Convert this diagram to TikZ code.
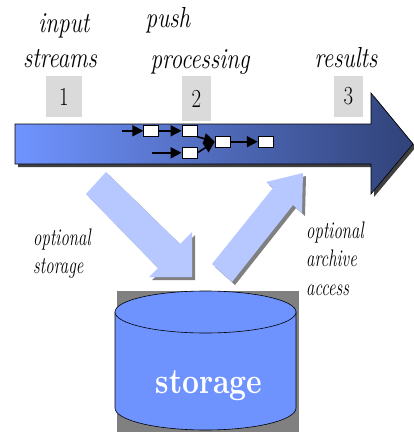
\documentclass[tikz,border=0pt]{standalone}
\usepackage{fontspec}
\setmainfont{Latin Modern Roman}
\newfontfamily\condfont[FakeStretch=0.8]{Latin Modern Roman}
\newfontfamily\condsmall[FakeStretch=0.7]{Latin Modern Roman}
\newfontfamily\condbold[FakeStretch=0.82]{lmroman10-bold.otf}
\usetikzlibrary{arrows.meta}
\definecolor{bigleft}{RGB}{112,148,255}
\definecolor{bigright}{RGB}{48,66,120}
\definecolor{lightarr}{RGB}{182,200,255}
\definecolor{cylfill}{RGB}{110,147,255}
\definecolor{numbox}{RGB}{218,218,218}
\definecolor{shadowgray}{RGB}{128,128,128}
\tikzset{
  lbl/.style={font=\condfont\fontsize{29}{32}\selectfont\itshape, inner sep=0pt, anchor=base},
  smalllbl/.style={font=\condsmall\fontsize{24}{26}\selectfont\itshape, inner sep=0pt, anchor=base west},
  numbox/.style={fill=numbox, inner sep=0pt, font=\condfont\fontsize{26}{28}\selectfont},
  flowbox/.style={draw=black, fill=white, line width=0.8pt, minimum width=15pt, minimum height=11pt, inner sep=0pt},
  flowarr/.style={line width=1.6pt, -{Triangle[length=11pt,width=11pt]}},
}
\begin{document}
\begin{tikzpicture}[x=1pt,y=-1pt]
\useasboundingbox (0,0) rectangle (414,433);

% top labels
\node[lbl] (tin) at (64,33) {input};
\node[lbl] (tstr) at (60,68) {streams};
\node[lbl] (tpush) at (168,28) {push};
\node[lbl] (tproc) at (200,69) {processing};
\node[lbl] (tres) at (346,68) {results};

% number boxes
\node[numbox, minimum width=36pt, minimum height=41pt] (n1) at (64,96.5) {1};
\node[numbox, minimum width=29pt, minimum height=45pt] (n2) at (196.5,98.5) {2};
\node[numbox, minimum width=29pt, minimum height=41pt] (n3) at (348.5,96.5) {3};

% big arrow shadow
\fill[black!75] ([shift={(3,3)}]15,124) -- ++(356,0) -- ++(0,-31) -- ++(42,51) -- ++(-42,50) -- ++(0,-30) -- ++(-356,0) -- cycle;
% big arrow
\shade[left color=bigleft, right color=bigright, draw=black, line width=0.6pt]
  (15,124) -- (371,124) -- (371,93) -- (413,144) -- (371,194) -- (371,164) -- (15,164) -- cycle;

% flow inside arrow
\node[flowbox] (fa) at (151.3,130.8) {};
\node[flowbox] (fb) at (189.5,130.8) {};
\node[flowbox] (fc) at (189.5,152.8) {};
\node[flowbox] (fd) at (222.7,141.7) {};
\node[flowbox] (fe) at (265.7,141.7) {};
\coordinate (sa) at (122,130.8);
\coordinate (sc) at (152,152.8);
\draw[flowarr] (sa) -- (fa.west);
\draw[flowarr] (fa.east) -- (fb.west);
\draw[flowarr] (sc) -- (fc.west);
\draw[flowarr] (fb.south east) -- (fd.west);
\draw[flowarr] (fc.east) -- (fd.west);
\draw[flowarr] (fd.east) -- (fe.west);

% light down arrow (optional storage)
\fill[shadowgray] ([shift={(3,3)}]106,172) -- ++(74,72) -- ++(12,-12) -- ++(0,45) -- ++(-43,0) -- ++(9,-9) -- ++(-72,-74) -- cycle;
\fill[lightarr] (106,172) -- (180,244) -- (192,232) -- (192,277) -- (149,277) -- (158,268) -- (86,194) -- cycle;

% light up arrow (optional archive access)
\fill[shadowgray] ([shift={(3,3)}]212,264) -- ++(61,-76) -- ++(-7,-6) -- ++(37,-9) -- ++(-1,40) -- ++(-9,-8) -- ++(-61,77) -- cycle;
\fill[lightarr] (212,264) -- (273,188) -- (266,182) -- (303,173) -- (302,213) -- (293,205) -- (232,282) -- cycle;

% side labels
\node[smalllbl] (os1) at (33,245) {optional};
\node[smalllbl] (os2) at (33,273) {storage};
\node[smalllbl] (oa1) at (306,238) {optional};
\node[smalllbl] (oa2) at (306,266) {archive};
\node[smalllbl] (oa3) at (306,295) {access};

% storage cylinder
\fill[shadowgray] (117,291) rectangle (299,432);
\filldraw[fill=cylfill, draw=black, line width=0.6pt]
  (115,312) -- (115,408) arc[start angle=180, end angle=360, x radius=90.5pt, y radius=22pt] -- (296,312) -- cycle;
\filldraw[fill=cylfill, draw=black, line width=0.6pt] (205.5,312) ellipse [x radius=90.5pt, y radius=21pt];
\node[text=white, font=\condbold\fontsize{36}{38}\selectfont, anchor=base, inner sep=0pt] (st) at (209,393) {storage};
\end{tikzpicture}
\end{document}
